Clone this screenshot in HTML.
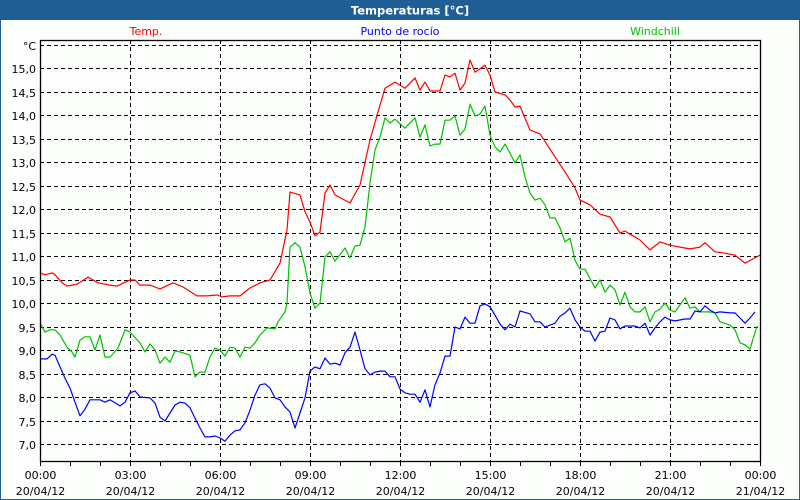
<!DOCTYPE html>
<html><head><meta charset="utf-8"><style>
html,body{margin:0;padding:0;background:#fff}
#wrap{position:relative;width:800px;height:500px;overflow:hidden}
svg text{font-family:"DejaVu Sans","Liberation Sans",sans-serif}
</style></head><body>
<div id="wrap">
<svg id="chart" width="800" height="500" viewBox="0 0 800 500" xmlns="http://www.w3.org/2000/svg">
<rect x="0" y="0" width="800" height="500" fill="#fcfefc"/>
<rect x="0.5" y="0.5" width="799" height="499" fill="none" stroke="#1f5f96"/>
<rect x="0" y="0" width="800" height="20" fill="#1f5f96"/>
<text x="410" y="14.5" text-anchor="middle" font-size="11.5" font-weight="bold" fill="#ffffff">Temperaturas [°C]</text>
<text x="146" y="35" text-anchor="middle" font-size="11" fill="#ff0000">Temp.</text>
<text x="400" y="35" text-anchor="middle" font-size="11" fill="#0000ff">Punto de rocío</text>
<text x="655" y="35" text-anchor="middle" font-size="11" fill="#00c000">Windchill</text>
<g id="grid"></g>
<g id="series"></g>
<rect x="40.5" y="40.5" width="720" height="421" fill="none" stroke="#000" stroke-width="1.3"/>
<g id="axes"></g>
</svg>
</div>
<script>
const yTicks=[7.0,7.5,8.0,8.5,9.0,9.5,10.0,10.5,11.0,11.5,12.0,12.5,13.0,13.5,14.0,14.5,15.0];
const xTickLabels=["00:00","03:00","06:00","09:00","12:00","15:00","18:00","21:00","00:00"];
const xDateLabels=["20/04/12","20/04/12","20/04/12","20/04/12","20/04/12","20/04/12","20/04/12","20/04/12","21/04/12"];
const tempMin=[0,10,24,30,44,54,74,96,116,140,154,180,190,200,220,240,266,286,314,334,354,364,380,400,420,440,460,474,480,494,500,520,530,540,550,560,570,580,590,620,640,660,680,690,710,730,750,760,770,780,800,810,820,830,840,850,860,870,890,900,910,930,940,950,960,980,1000,1030,1050,1070,1080,1100,1120,1140,1160,1170,1200,1220,1240,1260,1280,1300,1320,1330,1350,1370,1390,1410,1440];
const tempVal=[10.64,10.60,10.64,10.60,10.43,10.36,10.40,10.55,10.43,10.38,10.36,10.49,10.49,10.38,10.38,10.30,10.43,10.34,10.15,10.15,10.17,10.13,10.15,10.15,10.32,10.43,10.49,10.74,10.85,11.55,12.36,12.30,11.94,11.72,11.43,11.51,12.34,12.51,12.30,12.13,12.51,13.47,14.21,14.57,14.70,14.57,14.79,14.53,14.70,14.51,14.51,14.85,14.81,14.89,14.53,14.68,15.17,14.91,15.06,14.85,14.49,14.43,14.32,14.17,14.19,13.68,13.60,13.11,12.79,12.45,12.19,12.09,11.89,11.83,11.49,11.53,11.34,11.13,11.30,11.23,11.19,11.15,11.19,11.28,11.09,11.06,11.02,10.85,11.02];
const windMin=[0,10,20,30,40,54,64,70,80,90,100,110,120,130,140,156,170,180,200,210,220,230,240,250,260,270,280,300,310,320,330,340,350,360,370,380,390,400,410,420,430,440,454,470,476,490,494,500,510,520,530,540,550,560,570,580,590,610,620,630,640,650,660,670,680,690,700,710,730,750,760,770,780,790,800,810,820,830,840,850,860,870,880,890,900,910,920,930,940,950,960,970,980,990,1000,1010,1020,1030,1040,1050,1060,1070,1080,1090,1110,1120,1130,1140,1150,1160,1170,1180,1190,1200,1210,1220,1230,1240,1250,1260,1270,1290,1300,1310,1320,1340,1350,1360,1380,1390,1400,1410,1420,1434];
const windVal=[9.57,9.38,9.43,9.43,9.32,9.06,8.96,8.85,9.21,9.28,9.28,9.0,9.32,8.85,8.85,9.04,9.43,9.38,9.15,8.96,9.13,9.0,8.72,8.85,8.74,8.98,8.96,8.89,8.43,8.53,8.53,8.85,9.04,9.0,8.87,9.06,9.04,8.85,9.06,9.04,9.15,9.32,9.47,9.45,9.60,9.81,10.0,11.19,11.28,11.19,10.77,10.21,9.89,10.0,10.98,11.09,10.89,11.17,10.96,11.21,11.23,11.62,12.55,13.26,13.53,13.94,13.83,13.91,13.72,13.94,13.53,13.79,13.34,13.38,13.38,13.89,13.89,13.98,13.57,13.70,14.23,13.98,14.02,14.19,13.57,13.32,13.21,13.38,13.19,12.98,13.15,12.68,12.34,12.19,12.23,12.09,11.81,11.81,11.60,11.30,11.38,10.91,10.72,10.72,10.32,10.49,10.23,10.38,10.28,9.96,10.23,9.92,9.81,9.81,9.92,9.60,9.81,9.87,10.0,9.85,9.81,10.11,9.89,9.92,9.81,9.81,9.79,9.60,9.53,9.43,9.15,9.11,9.02,9.51];
const dewMin=[0,14,24,30,40,50,60,70,80,90,100,120,130,140,160,170,180,190,200,220,230,240,250,260,270,280,290,300,310,320,330,340,350,360,370,380,390,400,410,420,430,440,450,460,470,480,490,500,510,520,530,540,550,560,570,580,590,600,610,620,630,640,650,660,670,680,690,700,710,720,730,740,750,760,770,780,790,800,810,820,830,840,850,860,870,880,890,900,910,920,930,940,950,960,980,990,1000,1010,1030,1040,1050,1060,1070,1080,1090,1100,1110,1120,1130,1140,1150,1160,1170,1190,1200,1210,1220,1230,1240,1250,1260,1270,1290,1300,1310,1320,1330,1340,1350,1360,1380,1390,1400,1410,1420,1430];
const dewVal=[8.81,8.81,8.91,8.89,8.64,8.40,8.19,7.89,7.60,7.74,7.94,7.94,7.89,7.94,7.81,7.89,8.09,8.13,8.0,7.98,7.87,7.57,7.49,7.66,7.83,7.89,7.87,7.77,7.55,7.34,7.15,7.15,7.17,7.13,7.06,7.19,7.28,7.30,7.45,7.72,8.04,8.26,8.28,8.19,7.98,7.94,7.79,7.68,7.34,7.66,7.98,8.55,8.64,8.60,8.83,8.70,8.72,8.68,8.94,9.06,9.38,9.0,8.60,8.47,8.53,8.55,8.55,8.43,8.43,8.17,8.09,8.06,8.06,7.89,8.15,7.79,8.26,8.51,8.87,8.87,9.49,9.45,9.70,9.57,9.57,9.94,9.98,9.92,9.74,9.55,9.43,9.55,9.49,9.83,9.77,9.60,9.60,9.49,9.57,9.72,9.79,9.89,9.64,9.49,9.40,9.40,9.19,9.38,9.40,9.68,9.64,9.45,9.51,9.51,9.47,9.57,9.32,9.47,9.60,9.70,9.64,9.62,9.66,9.66,9.83,9.81,9.94,9.85,9.79,9.81,9.79,9.79,9.68,9.57,9.68,9.81];

const NS="http://www.w3.org/2000/svg";
const X0=40,X1=760,Y7=444,PX_PER_UNIT=47;
function xScale(min){return X0+(X1-X0)*min/1440;}
function yScale(v){return Y7-(v-7)*PX_PER_UNIT;}
function mk(tag,attrs,parent){const e=document.createElementNS(NS,tag);for(const k in attrs)e.setAttribute(k,attrs[k]);parent.appendChild(e);return e;}
const grid=document.getElementById('grid'),axes=document.getElementById('axes'),series=document.getElementById('series');

// horizontal gridlines + y labels
yTicks.forEach(v=>{
  const y=Math.round(yScale(v))+0.5;
  const l=mk('line',{x1:X0,x2:X1,y1:y,y2:y,stroke:'#000','stroke-dasharray':'4,3','stroke-width':1},grid);
  
  
  const t=mk('text',{x:36,y:y+4.5,'text-anchor':'end','font-size':11,fill:'#000'},axes);
  t.textContent=v.toFixed(1).replace('.',',');
  
  
});
// unit line (15.5)
const uy=Math.round(yScale(15.5))+0.5;
const ul=mk('line',{x1:X0,x2:X1,y1:uy,y2:uy,stroke:'#000','stroke-dasharray':'4,3'},grid);


const ut=mk('text',{x:36,y:uy+4.5,'text-anchor':'end','font-size':11,fill:'#000'},axes);
ut.textContent='°C';



// vertical gridlines, ticks, x labels
for(let h=0;h<=24;h++){
  const x=Math.round(xScale(h*60))+0.5;
  const tk=mk('line',{x1:x,x2:x,y1:461,y2:466,stroke:'#000'},axes);
  
  
  if(h%3===0){
    const i=h/3;
    if(h>0&&h<24){
      const g=mk('line',{x1:x,x2:x,y1:40,y2:461,stroke:'#000','stroke-dasharray':'4,3'},grid);
      
      
    }
    const t1=mk('text',{x:x,y:479,'text-anchor':'middle','font-size':11,fill:'#000'},axes);
    t1.textContent=xTickLabels[i];
    
    
    const t2=mk('text',{x:x,y:495,'text-anchor':'middle','font-size':11,fill:'#000'},axes);
    t2.textContent=xDateLabels[i];
    
    
  }
}

function drawLine(mins,vals,color,name){
  const pts=mins.map((m,i)=>xScale(m).toFixed(1)+','+yScale(vals[i]).toFixed(1)).join(' ');
  const p=mk('polyline',{points:pts,fill:'none',stroke:color,'stroke-width':1.2,'stroke-linejoin':'round'},series);
  
  
}
drawLine(windMin,windVal,'#00c000','windchill-line');
drawLine(dewMin,dewVal,'#0000ff','dew-point-line');
drawLine(tempMin,tempVal,'#ff0000','temperature-line');
</script>
</body></html>
